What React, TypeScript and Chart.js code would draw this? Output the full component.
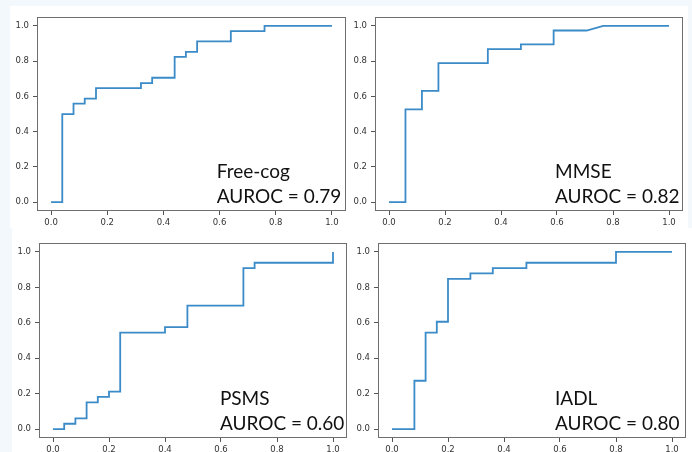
import React, { useEffect, useRef } from "react";
import { Chart, registerables } from "chart.js";

Chart.register(...registerables);

// ---- data ----
const tickValues = [0, 0.2, 0.4, 0.6, 0.8, 1.0];
const panelNames = ["Free-cog", "MMSE", "PSMS", "IADL"];
const aurocLabels = ["AUROC = 0.79", "AUROC = 0.82", "AUROC = 0.60", "AUROC = 0.80"];

const freeCogFpr = [0, 0.04, 0.04, 0.08, 0.08, 0.12, 0.12, 0.16, 0.16, 0.32, 0.32, 0.36, 0.36, 0.44, 0.44, 0.48, 0.48, 0.52, 0.52, 0.64, 0.64, 0.76, 0.76, 1.0];
const freeCogTpr = [0, 0, 0.5, 0.5, 0.559, 0.559, 0.588, 0.588, 0.647, 0.647, 0.676, 0.676, 0.706, 0.706, 0.824, 0.824, 0.853, 0.853, 0.912, 0.912, 0.971, 0.971, 1.0, 1.0];

const mmseFpr = [0, 0.0588, 0.0588, 0.1176, 0.1176, 0.1765, 0.1765, 0.353, 0.353, 0.471, 0.471, 0.588, 0.588, 0.706, 0.765, 1.0];
const mmseTpr = [0, 0, 0.526, 0.526, 0.632, 0.632, 0.789, 0.789, 0.868, 0.868, 0.895, 0.895, 0.974, 0.974, 1.0, 1.0];

const psmsFpr = [0, 0.04, 0.04, 0.08, 0.08, 0.12, 0.12, 0.16, 0.16, 0.2, 0.2, 0.24, 0.24, 0.4, 0.4, 0.48, 0.48, 0.68, 0.68, 0.72, 0.72, 1.0, 1.0];
const psmsTpr = [0, 0, 0.0303, 0.0303, 0.0606, 0.0606, 0.1515, 0.1515, 0.182, 0.182, 0.212, 0.212, 0.545, 0.545, 0.576, 0.576, 0.697, 0.697, 0.909, 0.909, 0.939, 0.939, 1.0];

const iadlFpr = [0, 0.08, 0.08, 0.12, 0.12, 0.16, 0.16, 0.2, 0.2, 0.28, 0.28, 0.36, 0.36, 0.48, 0.48, 0.8, 0.8, 1.0];
const iadlTpr = [0, 0, 0.273, 0.273, 0.545, 0.545, 0.606, 0.606, 0.848, 0.848, 0.879, 0.879, 0.909, 0.909, 0.939, 0.939, 1.0, 1.0];

const fprSeries = [freeCogFpr, mmseFpr, psmsFpr, iadlFpr];
const tprSeries = [freeCogTpr, mmseTpr, psmsTpr, iadlTpr];

// ---- layout (page pixels of each axes box) ----
const panelBoxes = [
  { l: 37, t: 12, r: 346, b: 211 },
  { l: 375, t: 12, r: 683, b: 211 },
  { l: 39, t: 238, r: 347, b: 438 },
  { l: 378, t: 238, r: 686, b: 438 },
];
const labelAnchorX = [0.59, 0.593, 0.596, 0.582];

const Y_AXIS_W = 36;
const X_AXIS_H = 18;
const PAD_T = 4;
const PAD_R = 4;

const boxPlugin = {
  id: "boxAndLabel",
  afterDraw(chart: any) {
    const { ctx, chartArea } = chart;
    const idx = chart.options.plugins.boxAndLabel.index;
    ctx.save();
    ctx.strokeStyle = "#6f6f6f";
    ctx.lineWidth = 1;
    ctx.strokeRect(
      Math.round(chartArea.left) + 0.5,
      Math.round(chartArea.top) + 0.5,
      Math.round(chartArea.right - chartArea.left) - 1,
      Math.round(chartArea.bottom - chartArea.top) - 1
    );
    const xs = chart.scales.x;
    const ys = chart.scales.y;
    const x = xs.getPixelForValue(labelAnchorX[idx]);
    const y2 = ys.getPixelForValue(0) + 1;
    ctx.fillStyle = "#111";
    ctx.font = "19px Lato";
    ctx.textBaseline = "alphabetic";
    ctx.textAlign = "left";
    ctx.fillText(panelNames[idx], x, y2 - 25);
    ctx.fillText(aurocLabels[idx], x, y2);
    ctx.restore();
  },
};

function Panel({ index }: { index: number }) {
  const ref = useRef<HTMLCanvasElement | null>(null);
  const box = panelBoxes[index];
  const w = box.r - box.l + Y_AXIS_W + PAD_R;
  const h = box.b - box.t + PAD_T + X_AXIS_H;

  useEffect(() => {
    if (!ref.current) return;
    const points = fprSeries[index].map((x, i) => ({ x, y: tprSeries[index][i] }));
    const tickFont = { family: "DejaVu Sans", size: 8.5 };
    const setTicks = (s: any) => {
      s.ticks = tickValues.map((v) => ({ value: v }));
    };
    const chart = new Chart(ref.current, {
      type: "scatter",
      data: {
        datasets: [
          {
            data: points,
            showLine: true,
            borderColor: "#3a8bc8",
            borderWidth: 1.8,
            pointRadius: 0,
            pointHoverRadius: 0,
            fill: false,
            tension: 0,
          },
        ],
      },
      options: {
        animation: false,
        responsive: false,
        devicePixelRatio: 1,
        events: [],
        layout: { padding: { top: PAD_T, right: PAD_R, left: 0, bottom: 0 } },
        plugins: {
          legend: { display: false },
          tooltip: { enabled: false },
          boxAndLabel: { index },
        } as any,
        scales: {
          x: {
            type: "linear",
            min: -0.05,
            max: 1.05,
            afterBuildTicks: setTicks,
            afterFit: (s: any) => {
              s.height = X_AXIS_H;
            },
            border: { display: false },
            grid: {
              display: true,
              drawOnChartArea: false,
              drawTicks: true,
              tickLength: 4,
              tickColor: "#555",
              tickWidth: 1,
            },
            ticks: {
              font: tickFont,
              color: "#333",
              padding: 3,
              maxRotation: 0,
              autoSkip: false,
              callback: (v: any) => Number(v).toFixed(1),
            },
          },
          y: {
            type: "linear",
            min: -0.05,
            max: 1.05,
            afterBuildTicks: setTicks,
            afterFit: (s: any) => {
              s.width = Y_AXIS_W;
            },
            border: { display: false },
            grid: {
              display: true,
              drawOnChartArea: false,
              drawTicks: true,
              tickLength: 4,
              tickColor: "#555",
              tickWidth: 1,
            },
            ticks: {
              font: tickFont,
              color: "#333",
              padding: 4,
              autoSkip: false,
              callback: (v: any) => Number(v).toFixed(1),
            },
          },
        },
      },
      plugins: [boxPlugin],
    });
    return () => chart.destroy();
  }, [index]);

  return (
    <canvas
      ref={ref}
      width={w}
      height={h}
      style={{
        position: "absolute",
        left: box.l - Y_AXIS_W,
        top: box.t - PAD_T,
        width: w,
        height: h,
      }}
    />
  );
}

export default function App() {
  return (
    <div
      style={{
        position: "absolute",
        left: 0,
        top: 0,
        width: 692,
        height: 452,
        background: "#f2f8fc",
        overflow: "hidden",
      }}
    >
      <div style={{ position: "absolute", left: 10, top: 6, width: 678, height: 222, background: "#fff" }} />
      <div style={{ position: "absolute", left: 12, top: 228, width: 680, height: 224, background: "#fff" }} />
      {[0, 1, 2, 3].map((i) => (
        <Panel key={i} index={i} />
      ))}
    </div>
  );
}
